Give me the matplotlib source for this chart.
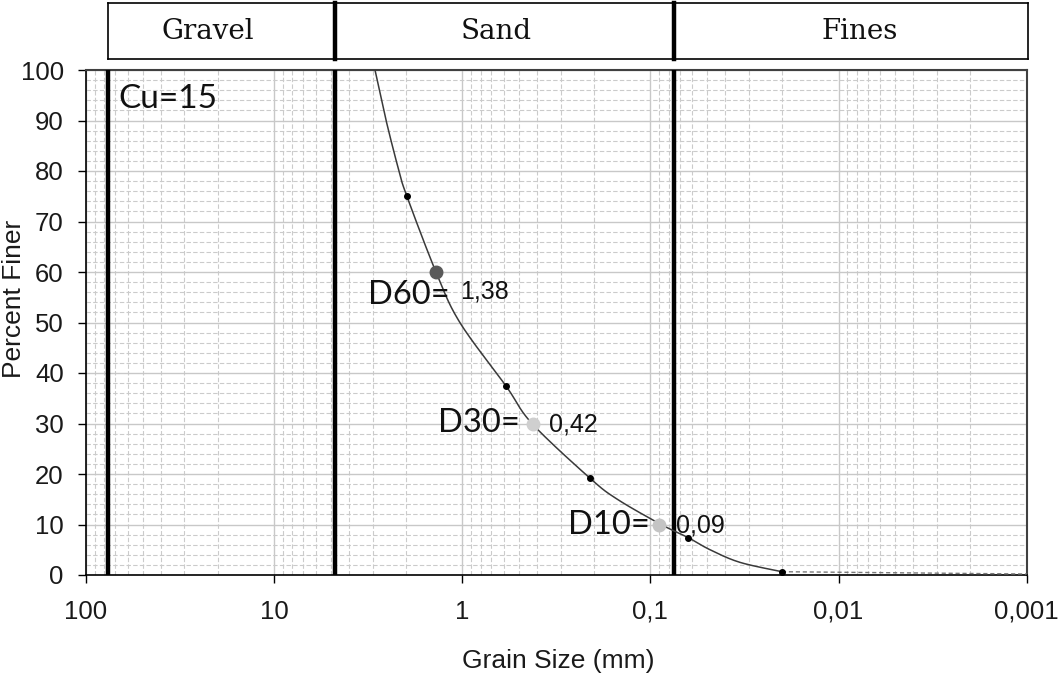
import numpy as np
import matplotlib
matplotlib.use('Agg')
import matplotlib.pyplot as plt
from matplotlib.ticker import FixedLocator, NullFormatter

# Curve (grain size mm, percent finer)
curve_d = [2.91, 2.54, 2.17, 1.97, 1.38, 1.03, 0.585, 0.426, 0.21, 0.150, 0.0877, 0.063, 0.0482, 0.0334, 0.020]
curve_p = [100, 90, 80, 75, 60, 50, 37.4, 30, 19.2, 15, 10, 7.4, 5, 2.5, 0.65]

# sieve points
sieve_d = [1.97, 0.585, 0.21, 0.063, 0.020]
sieve_p = [75, 37.4, 19.2, 7.4, 0.65]

# dashed tail to the end of the axis
tail_d = [0.020, 0.001]
tail_p = [0.65, 0.2]

# characteristic diameters
d_names = ['D60=', 'D30=', 'D10=']
d_values = [1.38, 0.42, 0.09]
d_labels = ['1,38', '0,42', '0,09']
d_percent = [60, 30, 10]
d_colors = ['#595959', '#cfcfcf', '#c4c4c4']

# soil class boundaries
bounds = [76.2, 4.75, 0.075]
classes = ['Gravel', 'Sand', 'Fines']
class_pos = [22.4, 0.658, 0.00776]
cu_text = 'Cu=15'

xticks = [100, 10, 1, 0.1, 0.01, 0.001]
xticklabels = ['100', '10', '1', '0,1', '0,01', '0,001']


def smooth_line(xs, ys, n=25):
    # catmull-rom through the points, in log-x space (like excel smoothed line)
    lx = np.log10(xs)
    pts = np.column_stack([lx, ys])
    pts = np.vstack([pts[0], pts, pts[-1]])
    out = []
    for i in range(1, len(pts)-2):
        p0, p1, p2, p3 = pts[i-1], pts[i], pts[i+1], pts[i+2]
        t = np.linspace(0, 1, n)[:, None]
        seg = 0.5*((2*p1) + (-p0+p2)*t + (2*p0-5*p1+4*p2-p3)*t**2 + (-p0+3*p1-3*p2+p3)*t**3)
        out.append(seg)
    out = np.vstack(out)
    return 10**out[:, 0], out[:, 1]


fig = plt.figure(figsize=(10.6, 6.75), dpi=100)
ax = fig.add_axes([86/1060, 100/675, 940.7/1060, 505/675])
hx = fig.add_axes([86/1060, (675-59.3)/675, 940.7/1060, 56/675])

ax.set_xscale('log')
ax.set_xlim(100, 0.001)
ax.set_ylim(0, 100)

# grid
minors = [m*10.0**e for e in range(-3, 2) for m in range(2, 10)]
ax.xaxis.set_minor_locator(FixedLocator(minors))
ax.xaxis.set_minor_formatter(NullFormatter())
ax.yaxis.set_minor_locator(FixedLocator(np.arange(0, 101, 2)))
ax.grid(which='major', color='#c8c8c8', lw=1.0, ls='-')
ax.grid(which='minor', color='#cbcbcb', lw=0.8, ls=(0, (4, 2)))
ax.set_axisbelow(True)

ax.set_xticks(xticks)
ax.set_xticklabels(xticklabels)
ax.set_yticks(np.arange(0, 101, 10))
ax.tick_params(which='minor', length=0)
ax.tick_params(which='major', direction='out', length=6, width=1, labelsize=18.5)
ax.tick_params(axis='x', pad=12)
ax.tick_params(axis='y', pad=10)
for lab in ax.get_xticklabels() + ax.get_yticklabels():
    lab.set_family('Liberation Sans')
    lab.set_color('#1a1a1a')

for s in ['top', 'right']:
    ax.spines[s].set_color('#404040')
    ax.spines[s].set_linewidth(1.5)
for s in ['left', 'bottom']:
    ax.spines[s].set_color('#000000')
    ax.spines[s].set_linewidth(1.2)

ax.set_xlabel('Grain Size (mm)', fontsize=19, family='Liberation Sans', color='#1a1a1a')
ax.set_ylabel('Percent Finer', fontsize=19, family='Liberation Sans', color='#1a1a1a')
ax.xaxis.label.set_va('center')
ax.yaxis.label.set_va('center')
ax.xaxis.set_label_coords(0.502, -0.170)
ax.yaxis.set_label_coords(-0.0765, 0.5475)

# boundaries
for b in bounds:
    ax.axvline(b, color='black', lw=3.2, zorder=3)

# curve
sx, sy = smooth_line(curve_d, curve_p)
ax.plot(sx, sy, color='#3a3a3a', lw=1.1, zorder=4)
ax.plot(tail_d, tail_p, color='#7a7a7a', lw=1.0, ls=(0, (3, 2)), zorder=4)
ax.plot(sieve_d, sieve_p, 'o', color='black', ms=4, zorder=5)

offs_name = [(14, -23.5), (-13, 0), (-9, 0)]
offs_val = [(24, -20), (16, -1), (17, -1)]
for name, v, lab, p, c, on, ov in zip(d_names, d_values, d_labels, d_percent, d_colors, offs_name, offs_val):
    ax.plot(v, p, 'o', color=c, ms=9, zorder=6)
    ax.annotate(name, (v, p), xytext=on, textcoords='offset pixels', ha='right', va='center',
                fontsize=23.5, family='Lato', color='#111111', zorder=7)
    ax.annotate(lab, (v, p), xytext=ov, textcoords='offset pixels', ha='left', va='center',
                fontsize=18, family='Liberation Sans', color='#111111', zorder=7)

ax.text(0.034, 0.943, cu_text, transform=ax.transAxes, fontsize=24, family='Lato',
        color='#111111', va='center', ha='left')

# header boxes
hx.set_xscale('log')
hx.set_xlim(100, 0.001)
hx.set_ylim(0, 1)
hx.axis('off')
hx.plot([bounds[0], 0.00098], [0, 0], color='black', lw=1.2, clip_on=False)
hx.plot([bounds[0], 0.00098], [1, 1], color='black', lw=1.2, clip_on=False)
hx.plot([bounds[0], bounds[0]], [0, 1], color='black', lw=1.2, clip_on=False)
hx.plot([0.00098, 0.00098], [0, 1], color='black', lw=1.2, clip_on=False)
for b in bounds[1:]:
    hx.plot([b, b], [0, 1], color='black', lw=3.2, clip_on=False)
for c, x in zip(classes, class_pos):
    hx.text(x, 0.5, c, ha='center', va='center', fontsize=20, family='DejaVu Serif', color='#111111')

fig.savefig('out.png', dpi=100)
